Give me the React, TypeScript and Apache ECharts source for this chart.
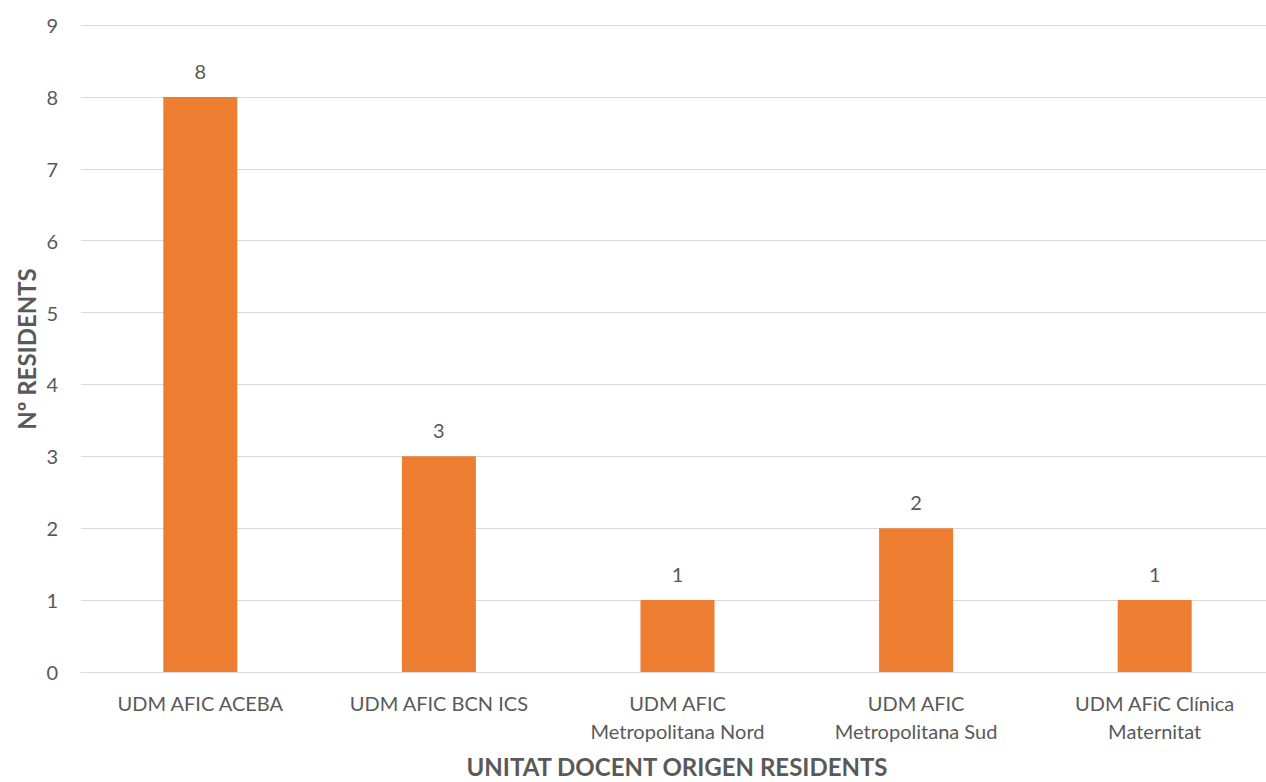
import React, { useEffect, useRef } from "react";
import * as echarts from "echarts";

const categories = [
  "UDM AFIC ACEBA",
  "UDM AFIC BCN ICS",
  "UDM AFIC\nMetropolitana Nord",
  "UDM AFIC\nMetropolitana Sud",
  "UDM AFiC Clínica\nMaternitat",
];
const residents = [8, 3, 1, 2, 1];
const yTitle = "Nº RESIDENTS";
const xTitle = "UNITAT DOCENT ORIGEN RESIDENTS";

const FONT = "Lato, 'Open Sans', sans-serif";
const TEXT = "#595959";

export default function App() {
  const ref = useRef<HTMLDivElement>(null);
  useEffect(() => {
    if (!ref.current) return;
    const chart = echarts.init(ref.current, undefined, { renderer: "svg" });
    chart.setOption({
      animation: false,
      backgroundColor: "#ffffff",
      grid: { left: 81, top: 25, width: 1193, height: 647, containLabel: false },
      xAxis: {
        type: "category",
        data: categories,
        axisLine: { show: true, lineStyle: { color: "#D9D9D9", width: 1 } },
        axisTick: { show: false },
        axisLabel: {
          color: TEXT,
          fontFamily: FONT,
          fontSize: 20,
          lineHeight: 28,
          margin: 17,
          interval: 0,
        },
      },
      yAxis: {
        type: "value",
        min: 0,
        max: 9,
        interval: 1,
        axisLine: { show: false },
        axisTick: { show: false },
        splitLine: { lineStyle: { color: "#D9D9D9", width: 1 } },
        axisLabel: { color: TEXT, fontFamily: FONT, fontSize: 20, margin: 23 },
      },
      series: [
        {
          type: "bar",
          data: residents,
          barWidth: 74,
          itemStyle: { color: "#ED7D31" },
          label: {
            show: true,
            position: "top",
            distance: 16,
            color: TEXT,
            fontFamily: FONT,
            fontSize: 20,
          },
        },
      ],
      graphic: [
        {
          type: "text",
          x: 26,
          y: 349,
          rotation: Math.PI / 2,
          style: {
            text: yTitle,
            fill: TEXT,
            font: `bold 24px ${FONT}`,
            align: "center",
            verticalAlign: "middle",
          },
        },
        {
          type: "text",
          x: 677,
          y: 766,
          style: {
            text: xTitle,
            fill: TEXT,
            font: `bold 24px ${FONT}`,
            align: "center",
            verticalAlign: "middle",
          },
        },
      ],
    });
    return () => chart.dispose();
  }, []);
  return (
    <div style={{ position: "absolute", left: 0, top: 0, width: 1266, height: 782, overflow: "hidden" }}>
      <div ref={ref} style={{ width: 1274, height: 782 }} />
    </div>
  );
}
